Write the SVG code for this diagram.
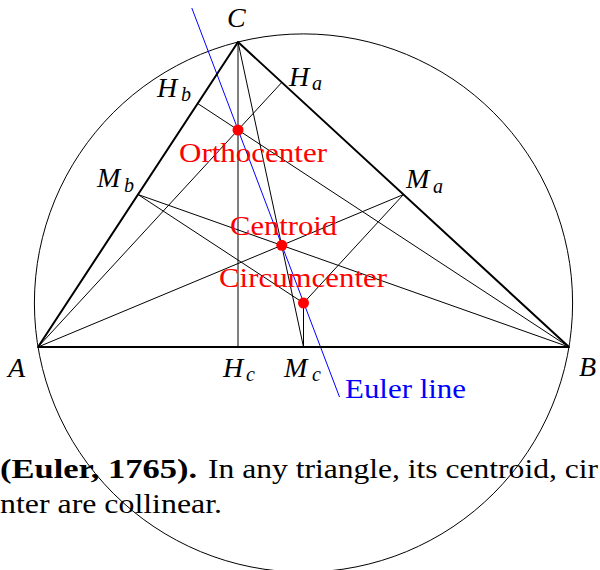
<svg xmlns="http://www.w3.org/2000/svg" width="600" height="570" viewBox="0 0 600 570">
<style>
.thin{stroke:#000;stroke-width:1;fill:none}
.tri{stroke:#000;stroke-width:2;fill:none;stroke-linejoin:round}
.euler{stroke:#0000ff;stroke-width:1;fill:none}
.dot{fill:#ff0000}
.lbl{font-style:italic;font-size:28px;fill:#000}
.sub{font-size:20px}
.red{font-size:28px;fill:#ff0000}
.blue{font-size:28px;fill:#0000ff}
.cap{font-size:27px;fill:#000}
</style>
<rect width="600" height="570" fill="#fff"/>
<g id="circumcircle">
<circle class="thin" cx="303.5" cy="303" r="269.1"/>
</g>
<g id="connectors">
<line class="thin" x1="238" y1="42" x2="238" y2="347"/>
<line class="thin" x1="38" y1="347" x2="281.8" y2="82.4"/>
<line class="thin" x1="569" y1="347" x2="197.7" y2="103.5"/>
<line class="thin" x1="38" y1="347" x2="403.5" y2="194.5"/>
<line class="thin" x1="569" y1="347" x2="138" y2="194.5"/>
<line class="thin" x1="238" y1="42" x2="303.5" y2="347"/>
<line class="thin" x1="303.5" y1="303" x2="403.5" y2="194.5"/>
<line class="thin" x1="303.5" y1="303" x2="138" y2="194.5"/>
<line class="thin" x1="303.5" y1="303" x2="303.5" y2="347"/>
<line class="euler" x1="191.8" y1="8" x2="339.5" y2="397"/>
</g>
<g id="triangle">
<polygon class="tri" points="38,347 569,347 238,42"/>
</g>
<g font-family="Liberation Serif, Times New Roman, serif">
<g id="orthocenter">
<circle class="dot" cx="238" cy="130" r="5.5"/>
<text class="red" x="179" y="162" textLength="148" lengthAdjust="spacingAndGlyphs">Orthocenter</text>
</g>
<g id="centroid">
<circle class="dot" cx="281.8" cy="245.3" r="5.5"/>
<text class="red" x="230" y="235" textLength="107" lengthAdjust="spacingAndGlyphs">Centroid</text>
</g>
<g id="circumcenter">
<circle class="dot" cx="303.5" cy="303" r="5.5"/>
<text class="red" x="219" y="287" textLength="168" lengthAdjust="spacingAndGlyphs">Circumcenter</text>
</g>
<g id="euler-label">
<text class="blue" x="345" y="398" textLength="121" lengthAdjust="spacingAndGlyphs">Euler line</text>
</g>
<g id="labels">
<text class="lbl" x="227" y="27">C</text>
<text class="lbl" x="8" y="377">A</text>
<text class="lbl" x="579" y="376">B</text>
<text class="lbl" x="157" y="97">H<tspan class="sub" x="181" y="101">b</tspan></text>
<text class="lbl" x="289" y="86">H<tspan class="sub" x="312" y="90">a</tspan></text>
<text class="lbl" x="97" y="187">M<tspan class="sub" x="124" y="192">b</tspan></text>
<text class="lbl" x="406" y="188">M<tspan class="sub" x="433" y="193">a</tspan></text>
<text class="lbl" x="223" y="377">H<tspan class="sub" x="246" y="381">c</tspan></text>
<text class="lbl" x="284" y="377">M<tspan class="sub" x="312" y="381">c</tspan></text>
</g>
<g id="caption">
<text class="cap" x="0" y="478" font-weight="bold" textLength="197" lengthAdjust="spacingAndGlyphs">(Euler, 1765).</text>
<text class="cap" x="208" y="478" textLength="390" lengthAdjust="spacingAndGlyphs">In any triangle, its centroid, cir</text>
<text class="cap" x="0" y="513" textLength="222" lengthAdjust="spacingAndGlyphs">nter are collinear.</text>
</g>
</g>
</svg>
